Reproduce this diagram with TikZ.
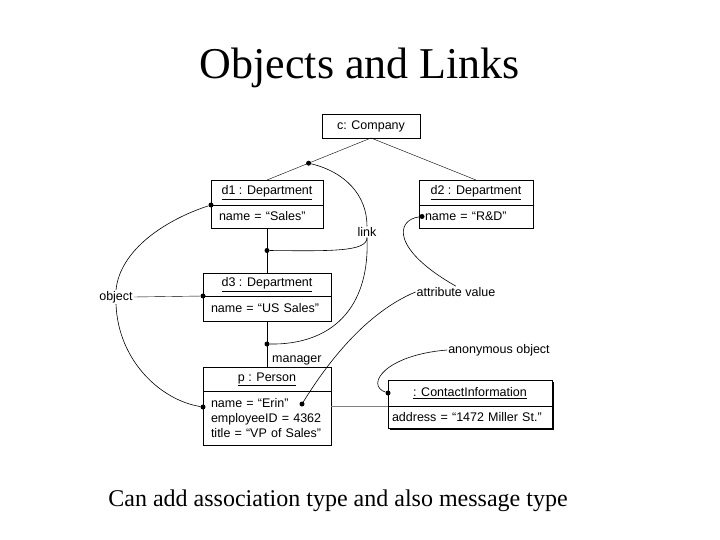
\documentclass[tikz,border=0pt]{standalone}
\usepackage{fontspec}
\setmainfont{Liberation Serif}
\setsansfont{Liberation Sans}
\usetikzlibrary{positioning, backgrounds}

\tikzset{
  objbox/.style={draw, fill=white, outer sep=0pt, inner sep=0pt, font=\sffamily\fontsize{12.5}{15}\selectfont},
  attrbox/.style={objbox, align=left, inner xsep=8pt},
  note/.style={inner sep=1pt, font=\sffamily\fontsize{12.5}{15}\selectfont},
  dotnode/.style={circle, fill, inner sep=0pt, minimum size=5pt},
  notewire/.style={line width=0.6pt}
}

\begin{document}
\begin{tikzpicture}[x=1pt, y=-1pt]
  \useasboundingbox (0,0) rectangle (720,540);
  \node[anchor=base, font=\fontsize{44}{48}\selectfont] (title) at (360,79) {Objects and Links};

  % objects
  \node[objbox, minimum width=98pt, minimum height=24pt] (company) at (371,126) {c: Company};
  \node[objbox, minimum width=112pt, minimum height=25pt] (d1-head) at (267,192.5) {\underline{d1 : Department}};
  \node[attrbox, text width=96pt, minimum height=23pt, below=0pt of d1-head] (d1-attr) {name = “Sales”};
  \node[objbox, minimum width=114pt, minimum height=25pt] (d2-head) at (476,192.5) {\underline{d2 : Department}};
  \node[attrbox, inner xsep=6pt, text width=102pt, minimum height=23pt, below=0pt of d2-head] (d2-attr) {name = “R\&D”};
  \node[objbox, minimum width=128pt, minimum height=23pt] (d3-head) at (267,284.5) {\underline{d3 : Department}};
  \node[attrbox, text width=112pt, minimum height=25pt, below=0pt of d3-head] (d3-attr) {name = “US Sales”};
  \node[objbox, minimum width=128pt, minimum height=24pt] (p-head) at (267,379) {\underline{p : Person}};
  \node[attrbox, text width=112pt, minimum height=54pt, below=0pt of p-head] (p-attr) {name = “Erin”\\ employeeID = 4362\\ title = “VP of Sales”};
  \node[objbox, minimum width=164pt, minimum height=26pt] (ci-head) at (470,393) {\underline{: ContactInformation}};
  \node[attrbox, inner xsep=4pt, text width=156pt, minimum height=22pt, below=0pt of ci-head] (ci-attr) {address = “1472 Miller St.”};
  \begin{scope}[on background layer]
    \fill ([shift={(1.5,1.5)}]ci-head.north west) rectangle ([shift={(1.5,1.5)}]ci-attr.south east);
  \end{scope}

  % links
  \draw (company.south) -- node[dotnode, pos=0.6] (link-dot1) {} (d1-head.north);
  \draw (company.south) -- (d2-head.north);
  \draw (d1-attr.south) -- node[dotnode] (link-dot2) {} (d3-head.north);
  \draw (d3-attr.south) -- node[dotnode] (link-dot3) {} node[note, pos=0.85, right=4pt] (manager) {manager} (p-head.north);
  \draw[gray] (ci-head.south west) -- (ci-head.south west -| p-attr.east);

  % dots for the notes
  \node[dotnode] (obj-dot1) at (d1-head.south west) {};
  \node[dotnode] (d2-dot) at ([xshift=3pt]d2-attr.west) {};
  \node[dotnode] (obj-dot2) at (d3-head.south west) {};
  \node[dotnode] (obj-dot3) at ([yshift=11pt]p-attr.west) {};
  \node[dotnode] (erin-dot) at (302,404) {};
  \node[dotnode] (ci-dot) at (ci-head.west) {};

  % notes
  \node[note] (link) at (367,232) {link};
  \node[note] (object) at (116,297) {object};
  \node[note] (attr-value) at (456,292) {attribute value};
  \node[note] (anon) at (499,350) {anonymous object};

  \draw[notewire] (link-dot1) .. controls (345,172) and (367,195) .. (link.north);
  \draw[notewire] (link-dot2) .. controls (330,251) and (367,252) .. (link.south);
  \draw[notewire] (link.south) .. controls (370,310) and (330,345) .. (link-dot3);
  \draw (object.east) -- (obj-dot2);
  \draw[notewire] (object.north) .. controls (120,250) and (165,220) .. (obj-dot1);
  \draw[notewire] (object.south) .. controls (118,360) and (160,400) .. (obj-dot3);
  \draw[notewire] (d2-dot) .. controls (395,220) and (392,250) .. (attr-value.north);
  \draw[notewire] (attr-value.west) .. controls (360,315) and (320,375) .. (erin-dot);
  \draw[notewire] (anon.west) .. controls (385,355) and (365,385) .. (ci-dot);

  \node[anchor=base, font=\fontsize{24}{28}\selectfont] (caption) at (338,506) {Can add association type and also message type};
\end{tikzpicture}
\end{document}
